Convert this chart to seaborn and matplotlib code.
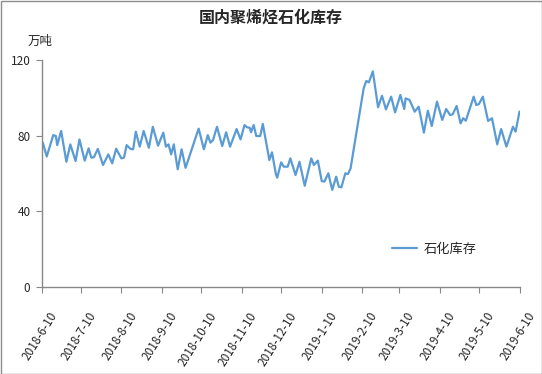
import pandas as pd
import seaborn as sns
from matplotlib import pyplot as plt
from matplotlib.patches import Rectangle
from matplotlib.transforms import ScaledTranslation

# 石化库存 (万吨)
dates = [
    "2018-06-10", "2018-06-11", "2018-06-14", "2018-06-19", "2018-06-21", "2018-06-22",
    "2018-06-25", "2018-06-29", "2018-07-02", "2018-07-06", "2018-07-09", "2018-07-13",
    "2018-07-16", "2018-07-18", "2018-07-20", "2018-07-23", "2018-07-27", "2018-07-31",
    "2018-08-03", "2018-08-06", "2018-08-10", "2018-08-12", "2018-08-14", "2018-08-17",
    "2018-08-19", "2018-08-21", "2018-08-24", "2018-08-27", "2018-08-31", "2018-09-03",
    "2018-09-07", "2018-09-11", "2018-09-13", "2018-09-15", "2018-09-17", "2018-09-19",
    "2018-09-22", "2018-09-25", "2018-09-28", "2018-10-08", "2018-10-12", "2018-10-15",
    "2018-10-17", "2018-10-19", "2018-10-22", "2018-10-26", "2018-10-29", "2018-11-01",
    "2018-11-06", "2018-11-09", "2018-11-12", "2018-11-14", "2018-11-16", "2018-11-17",
    "2018-11-19", "2018-11-21", "2018-11-24", "2018-11-26", "2018-12-01", "2018-12-03",
    "2018-12-06", "2018-12-07", "2018-12-10", "2018-12-12", "2018-12-15", "2018-12-17",
    "2018-12-21", "2018-12-24", "2018-12-28", "2019-01-02", "2019-01-04", "2019-01-07",
    "2019-01-10", "2019-01-12", "2019-01-15", "2019-01-18", "2019-01-21", "2019-01-23",
    "2019-01-25", "2019-01-28", "2019-01-30", "2019-02-01", "2019-02-11", "2019-02-13",
    "2019-02-15", "2019-02-18", "2019-02-22", "2019-02-25", "2019-02-28", "2019-03-04",
    "2019-03-07", "2019-03-11", "2019-03-14", "2019-03-15", "2019-03-18", "2019-03-22",
    "2019-03-25", "2019-03-29", "2019-04-01", "2019-04-04", "2019-04-08", "2019-04-12",
    "2019-04-15", "2019-04-18", "2019-04-20", "2019-04-23", "2019-04-26", "2019-04-28",
    "2019-04-30", "2019-05-06", "2019-05-08", "2019-05-10", "2019-05-13", "2019-05-17",
    "2019-05-20", "2019-05-24", "2019-05-27", "2019-05-31", "2019-06-05", "2019-06-07",
    "2019-06-10",
]
stock = [
    75.4, 76.3, 69.0, 80.3, 79.8, 75.0,
    82.5, 66.2, 75.4, 66.6, 78.0, 66.8,
    73.3, 68.4, 68.6, 73.0, 64.5, 70.1,
    65.4, 73.1, 68.0, 68.4, 75.0, 73.0,
    72.8, 82.1, 74.2, 82.5, 73.6, 84.7,
    74.7, 81.6, 74.2, 75.4, 70.1, 75.4,
    62.2, 72.8, 63.0, 83.7, 72.8, 80.3,
    76.3, 77.7, 84.7, 74.5, 81.8, 74.2,
    83.5, 78.0, 85.6, 84.4, 84.2, 81.8,
    85.6, 79.8, 79.8, 86.2, 67.1, 71.2,
    59.6, 57.8, 65.9, 63.6, 63.6, 68.0,
    59.2, 66.2, 53.5, 68.0, 64.5, 66.8,
    56.0, 55.7, 60.1, 51.3, 58.3, 53.0,
    52.7, 60.1, 59.7, 62.7, 105.0, 108.9,
    108.2, 114.0, 95.0, 101.1, 93.9, 100.6,
    92.3, 101.5, 94.1, 99.7, 98.9, 92.7,
    95.3, 81.6, 93.2, 85.1, 98.0, 88.3,
    94.1, 90.9, 91.3, 95.7, 86.5, 89.2,
    87.9, 100.6, 96.2, 96.7, 100.6, 87.8,
    89.2, 75.4, 83.5, 74.2, 84.7, 82.1,
    92.7,
]
tick_dates = [
    "2018-06-10", "2018-07-10", "2018-08-10", "2018-09-10", "2018-10-10", "2018-11-10",
    "2018-12-10", "2019-01-10", "2019-02-10", "2019-03-10", "2019-04-10", "2019-05-10",
    "2019-06-10",
]
y_ticks = [0, 40, 80, 120]

df = pd.DataFrame({"日期": pd.to_datetime(dates), "石化库存": stock})

sns.set_style("white")
plt.rcParams['font.family'] = ['Noto Sans CJK SC', 'DejaVu Sans']

fig = plt.figure(figsize=(5.42, 3.74), dpi=100)
ax = fig.add_axes([41.5 / 542, 1 - 287 / 374, 478 / 542, 227 / 374])

sns.lineplot(data=df, x="日期", y="石化库存", color="#5B9BD5", linewidth=1.6,
             label="石化库存", ax=ax)

ax.set_xlim(pd.Timestamp(tick_dates[0]), pd.Timestamp(tick_dates[-1]))
ax.set_ylim(0, 120)
ax.set_yticks(y_ticks)
ticks = pd.to_datetime(tick_dates)
ax.set_xticks(ticks)
ax.set_xticklabels([f"{t.year}-{t.month}-{t.day}" for t in ticks], rotation=58,
                   ha="right", va="top", rotation_mode="anchor", fontsize=8.5)
ax.tick_params(axis="y", labelsize=8.5, length=4, color="#888888", direction="out",
               left=True, pad=4)
ax.tick_params(axis="x", length=4, color="#888888", direction="out", bottom=True, pad=8)
shift = ScaledTranslation(7 / 100, -6 / 100, fig.dpi_scale_trans)
for lab in ax.get_xticklabels():
    lab.set_transform(lab.get_transform() + shift)
ax.set_xlabel("")
ax.set_ylabel("")

for side in ["top", "right"]:
    ax.spines[side].set_visible(False)
for side in ["left", "bottom"]:
    ax.spines[side].set_color("#888888")
    ax.spines[side].set_linewidth(1)

ax.legend(loc="center", bbox_to_anchor=(0.822, 0.165), frameon=False, fontsize=9.5,
          handlelength=1.9, handletextpad=0.5)

fig.text(0.5, 1 - 18 / 374, "国内聚烯烃石化库存", ha="center", va="center",
         fontsize=11.5, fontweight="bold")
fig.text(40 / 542, 1 - 41 / 374, "万吨", ha="center", va="center", fontsize=9)

fig.add_artist(Rectangle((0.5 / 542, 0.5 / 374), 541 / 542, 373 / 374,
                         transform=fig.transFigure, fill=False,
                         edgecolor="#8c8c8c", linewidth=1))

plt.savefig("out.png", dpi=100)
